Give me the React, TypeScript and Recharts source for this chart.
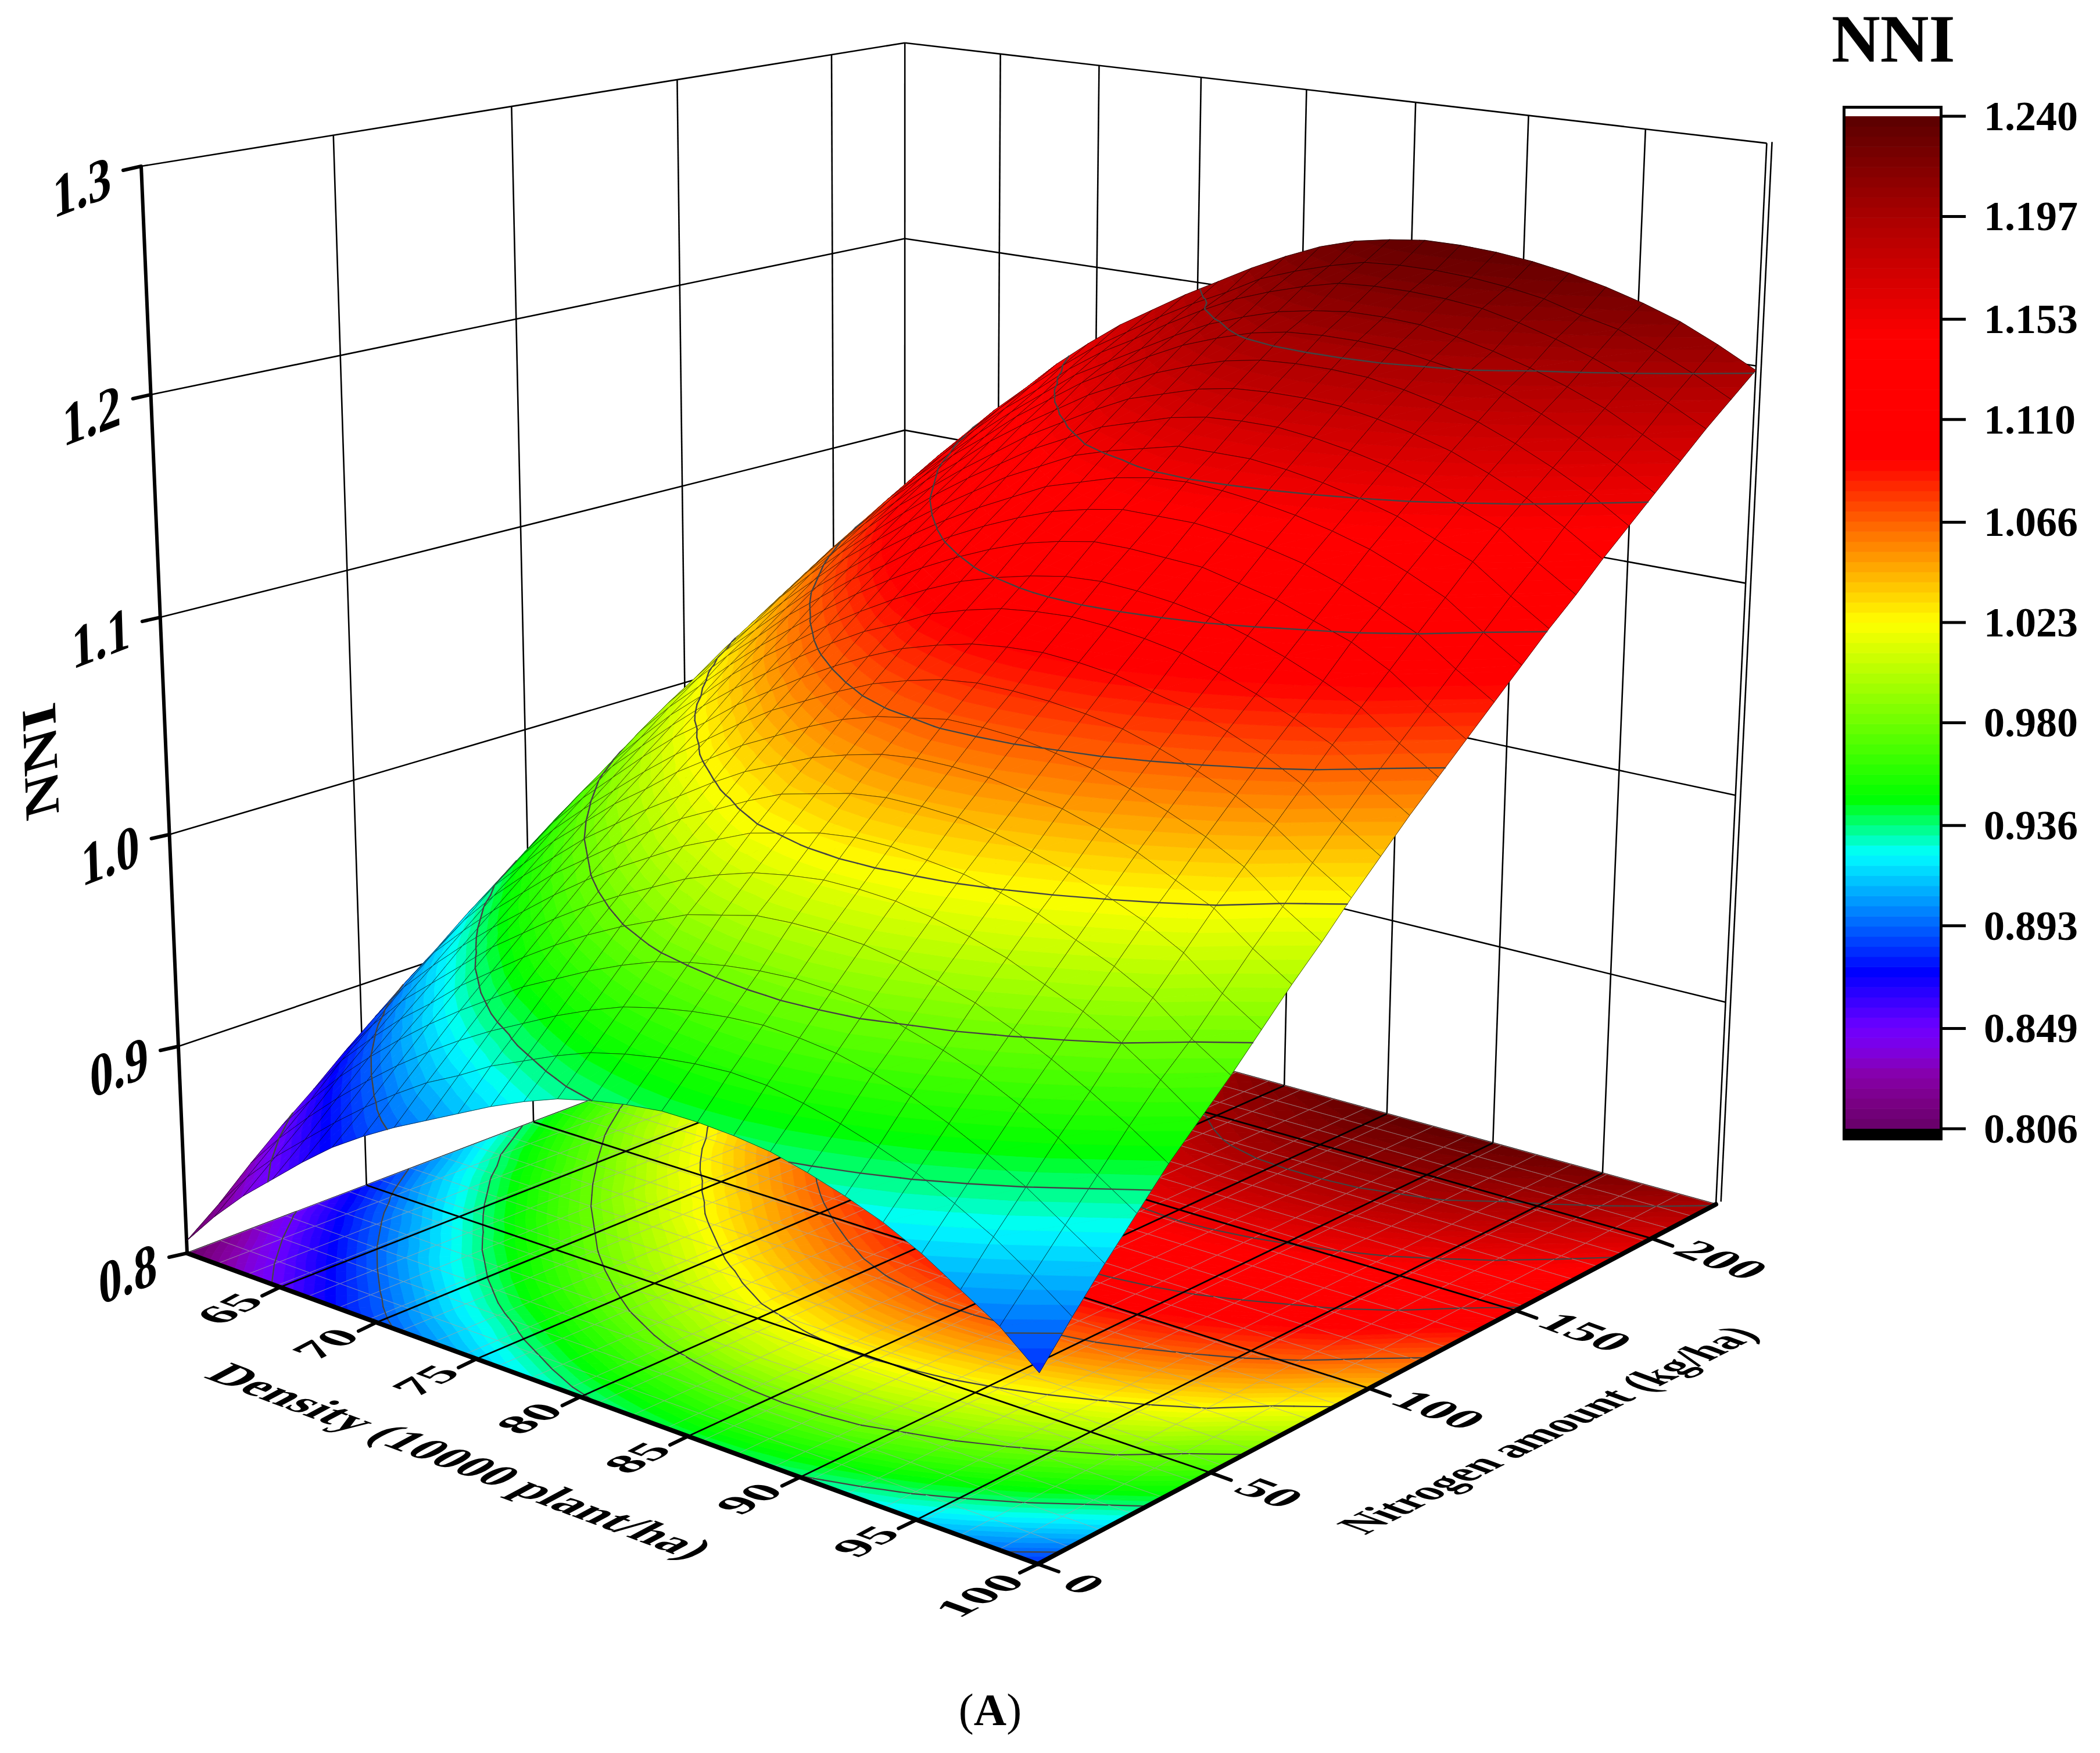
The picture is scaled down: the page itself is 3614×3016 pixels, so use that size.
import React from "react";
import { Scatter, ScatterChart, XAxis, YAxis } from "recharts";

const W = 3614;
const H = 3016;
const SERIF = "'Liberation Serif', 'Times New Roman', serif";

// grid nodes of the surface
const densityNodes = [60, 61.6, 63.2, 64.8, 66.4, 68, 69.6, 71.2, 72.8, 74.4, 76, 77.6, 79.2, 80.8, 82.4, 84, 85.6, 87.2, 88.8, 90.4, 92, 93.6, 95.2, 96.8, 98.4, 100];
const nitrogenNodes = [0, 9, 18, 27, 36, 45, 54, 63, 72, 81, 90, 99, 108, 117, 126, 135, 144, 153, 162, 171, 180, 189, 198, 207, 216, 225];

// NNI, one row per nitrogen node, one column per density node
const nni = [
  [.806, .823, .838, .851, .864, .876, .886, .895, .903, .911, .919, .926, .932, .936, .939, .941, .941, .940, .938, .934, .929, .923, .915, .905, .895, .881],
  [.818, .836, .851, .864, .877, .889, .900, .910, .918, .927, .934, .941, .947, .951, .954, .956, .957, .956, .953, .949, .944, .938, .930, .921, .910, .898],
  [.832, .849, .864, .878, .891, .903, .914, .924, .933, .941, .949, .956, .962, .966, .969, .971, .972, .971, .969, .965, .960, .953, .945, .936, .925, .914],
  [.845, .862, .878, .892, .905, .917, .928, .938, .948, .956, .964, .971, .977, .981, .984, .986, .987, .986, .984, .979, .974, .968, .960, .951, .940, .929],
  [.857, .876, .891, .905, .917, .930, .941, .952, .962, .971, .979, .986, .993, .997, 1.001, 1.002, 1.002, 1.001, .998, .994, .989, .982, .974, .965, .955, .944],
  [.870, .888, .904, .917, .930, .943, .954, .965, .975, .984, .992, 1.000, 1.006, 1.011, 1.014, 1.016, 1.016, 1.015, 1.012, 1.008, 1.003, .996, .989, .980, .969, .957],
  [.882, .901, .916, .930, .943, .955, .967, .978, .988, .997, 1.006, 1.013, 1.020, 1.024, 1.028, 1.030, 1.030, 1.028, 1.026, 1.022, 1.017, 1.010, 1.003, .994, .981, .970],
  [.894, .913, .928, .942, .955, .968, .979, .990, 1.000, 1.010, 1.018, 1.026, 1.033, 1.037, 1.041, 1.043, 1.043, 1.042, 1.039, 1.035, 1.030, 1.024, 1.017, 1.008, .995, .984],
  [.905, .924, .940, .954, .967, .980, .991, 1.002, 1.012, 1.022, 1.031, 1.038, 1.045, 1.050, 1.054, 1.056, 1.056, 1.055, 1.052, 1.049, 1.044, 1.038, 1.030, 1.022, 1.009, .998],
  [.917, .936, .951, .966, .979, .992, 1.003, 1.015, 1.025, 1.035, 1.043, 1.051, 1.058, 1.063, 1.066, 1.069, 1.069, 1.068, 1.065, 1.062, 1.057, 1.051, 1.044, 1.035, 1.022, 1.011],
  [.928, .947, .963, .977, .990, 1.003, 1.015, 1.026, 1.037, 1.047, 1.055, 1.063, 1.070, 1.075, 1.079, 1.081, 1.081, 1.080, 1.078, 1.075, 1.070, 1.064, 1.057, 1.048, 1.036, 1.025],
  [.939, .958, .974, .988, 1.002, 1.015, 1.026, 1.038, 1.048, 1.058, 1.067, 1.075, 1.082, 1.087, 1.091, 1.093, 1.094, 1.093, 1.091, 1.087, 1.083, 1.077, 1.070, 1.061, 1.049, 1.038],
  [.950, .969, .985, .999, 1.013, 1.026, 1.038, 1.049, 1.060, 1.070, 1.079, 1.086, 1.094, 1.099, 1.103, 1.105, 1.106, 1.105, 1.103, 1.100, 1.095, 1.089, 1.082, 1.074, 1.062, 1.051],
  [.960, .979, .995, 1.010, 1.023, 1.037, 1.049, 1.060, 1.071, 1.081, 1.090, 1.098, 1.105, 1.110, 1.114, 1.117, 1.118, 1.117, 1.115, 1.112, 1.107, 1.101, 1.094, 1.086, 1.074, 1.063],
  [.970, .990, 1.006, 1.020, 1.034, 1.047, 1.059, 1.071, 1.082, 1.092, 1.101, 1.109, 1.116, 1.122, 1.126, 1.129, 1.129, 1.128, 1.127, 1.123, 1.119, 1.113, 1.107, 1.098, 1.086, 1.075],
  [.980, 1.000, 1.016, 1.031, 1.044, 1.058, 1.070, 1.082, 1.092, 1.103, 1.112, 1.120, 1.127, 1.133, 1.137, 1.140, 1.140, 1.140, 1.138, 1.135, 1.131, 1.125, 1.118, 1.110, 1.098, 1.087],
  [.990, 1.009, 1.026, 1.040, 1.054, 1.068, 1.080, 1.092, 1.103, 1.113, 1.122, 1.130, 1.138, 1.143, 1.148, 1.151, 1.152, 1.151, 1.149, 1.146, 1.142, 1.137, 1.130, 1.122, 1.110, 1.099],
  [.999, 1.019, 1.035, 1.050, 1.064, 1.078, 1.090, 1.102, 1.113, 1.123, 1.133, 1.141, 1.149, 1.154, 1.158, 1.162, 1.162, 1.162, 1.160, 1.157, 1.153, 1.148, 1.141, 1.134, 1.122, 1.111],
  [1.009, 1.028, 1.045, 1.060, 1.074, 1.087, 1.100, 1.112, 1.123, 1.133, 1.143, 1.151, 1.159, 1.164, 1.169, 1.172, 1.173, 1.173, 1.171, 1.168, 1.164, 1.159, 1.152, 1.145, 1.133, 1.122],
  [1.018, 1.037, 1.054, 1.069, 1.083, 1.097, 1.109, 1.121, 1.132, 1.143, 1.152, 1.161, 1.169, 1.174, 1.179, 1.182, 1.183, 1.183, 1.182, 1.179, 1.175, 1.170, 1.163, 1.155, 1.145, 1.134],
  [1.026, 1.046, 1.063, 1.078, 1.092, 1.106, 1.118, 1.131, 1.142, 1.152, 1.162, 1.170, 1.178, 1.184, 1.189, 1.192, 1.193, 1.193, 1.192, 1.189, 1.185, 1.180, 1.173, 1.165, 1.156, 1.145],
  [1.035, 1.055, 1.071, 1.087, 1.101, 1.115, 1.127, 1.140, 1.151, 1.162, 1.171, 1.180, 1.188, 1.194, 1.199, 1.202, 1.203, 1.203, 1.202, 1.199, 1.196, 1.190, 1.183, 1.175, 1.166, 1.156],
  [1.043, 1.063, 1.080, 1.095, 1.109, 1.123, 1.136, 1.148, 1.160, 1.169, 1.178, 1.187, 1.195, 1.201, 1.206, 1.209, 1.211, 1.211, 1.210, 1.207, 1.203, 1.198, 1.192, 1.185, 1.176, 1.167],
  [1.051, 1.071, 1.088, 1.103, 1.118, 1.132, 1.144, 1.157, 1.168, 1.177, 1.187, 1.196, 1.204, 1.210, 1.215, 1.219, 1.220, 1.220, 1.219, 1.217, 1.213, 1.208, 1.202, 1.195, 1.187, 1.178],
  [1.059, 1.079, 1.096, 1.111, 1.126, 1.140, 1.153, 1.165, 1.175, 1.185, 1.194, 1.202, 1.211, 1.217, 1.222, 1.226, 1.227, 1.227, 1.226, 1.224, 1.221, 1.216, 1.212, 1.205, 1.197, 1.188],
  [1.066, 1.086, 1.103, 1.119, 1.133, 1.148, 1.161, 1.173, 1.183, 1.193, 1.202, 1.211, 1.219, 1.226, 1.231, 1.234, 1.236, 1.236, 1.235, 1.233, 1.230, 1.226, 1.221, 1.215, 1.207, 1.198],
];

const densityTicks = [65, 70, 75, 80, 85, 90, 95, 100];
const nitrogenTicks = [0, 50, 100, 150, 200];
const nniTicks = [0.8, 0.9, 1.0, 1.1, 1.2, 1.3];
const barTicks = [0.806, 0.849, 0.893, 0.936, 0.98, 1.023, 1.066, 1.11, 1.153, 1.197, 1.24];

// colour map stops: position on the colour bar, r, g, b
const colourStops = [
  [0, 102, 0, 102], [0.024, 120, 0, 130], [0.053, 135, 0, 170], [0.08, 125, 0, 230], [0.1, 110, 0, 255],
  [0.12, 70, 0, 255], [0.155, 0, 0, 255], [0.272, 0, 255, 255], [0.326, 0, 255, 0], [0.5, 255, 255, 0],
  [0.66, 255, 0, 0], [0.78, 255, 0, 0], [0.9, 170, 0, 0], [1, 90, 0, 0],
];

const Z_MIN = 0.806;
const Z_MAX = 1.24;
const BANDS = 100;
const STEP = (Z_MAX - Z_MIN) / BANDS;

function bandColour(k: number) {
  const t = (Math.max(0, Math.min(BANDS - 1, k)) + 0.5) / BANDS;
  let n = 0;
  while (n < colourStops.length - 2 && colourStops[n + 1][0] < t) n++;
  const a = colourStops[n];
  const b = colourStops[n + 1];
  const f = (t - a[0]) / (b[0] - a[0]);
  const c = [1, 2, 3].map((q) => Math.round(a[q] + (b[q] - a[q]) * f));
  return `rgb(${c[0]},${c[1]},${c[2]})`;
}

// perspective box, fitted on the four floor corners and the top of the z axis
const cA = [322, 2156];
const cB = [1786, 2691];
const cC = [2953, 2072];
const cD = [1557, 1688];
const vanish = [1553, 31286];
const topA = 286;

const solveWeights = () => {
  // lB*B + lD*D - lC*C = A with lA = 1
  const e1 = [cB[0] - cC[0], cD[0] - cC[0], cA[0] - cC[0]];
  const e2 = [cB[1] - cC[1], cD[1] - cC[1], cA[1] - cC[1]];
  const det = e1[0] * e2[1] - e1[1] * e2[0];
  const lB = (e1[2] * e2[1] - e1[1] * e2[2]) / det;
  const lD = (e1[0] * e2[2] - e1[2] * e2[0]) / det;
  return [lB, lD];
};
const [lB, lD] = solveWeights();
const P0 = [cA[0], cA[1], 1];
const Pu = [lB * cB[0] - cA[0], lB * cB[1] - cA[1], lB - 1];
const Pv = [lD * cD[0] - cA[0], lD * cD[1] - cA[1], lD - 1];
const sW = (topA - cA[1]) / (vanish[1] - topA);
const Pw = [sW * vanish[0], sW * vanish[1], sW];

function project(d: number, n: number, z: number) {
  const u = (d - 60) / 40;
  const v = n / 225;
  const w = (z - 0.8) / 0.5;
  const q = [0, 1, 2].map((k) => P0[k] + u * Pu[k] + v * Pv[k] + w * Pw[k]);
  return { x: q[0] / q[2], y: q[1] / q[2] };
}

type V = { x: number; y: number; z: number };

function clipAbove(poly: V[], lim: number, keepAbove: boolean) {
  const out: V[] = [];
  const inside = (p: V) => (keepAbove ? p.z >= lim : p.z <= lim);
  poly.forEach((p, i) => {
    const q = poly[(i + 1) % poly.length];
    if (inside(p)) out.push(p);
    if (inside(p) !== inside(q)) {
      const f = (lim - p.z) / (q.z - p.z);
      out.push({ x: p.x + (q.x - p.x) * f, y: p.y + (q.y - p.y) * f, z: lim });
    }
  });
  return out;
}

function buildCell(i: number, j: number, floor: boolean) {
  const corner = (a: number, b: number): V => {
    const z = nni[b][a];
    const p = project(densityNodes[a], nitrogenNodes[b], floor ? 0.8 : z);
    return { x: p.x, y: p.y, z };
  };
  const c = [corner(i, j), corner(i + 1, j), corner(i + 1, j + 1), corner(i, j + 1)];
  const pieces: { d: string; fill: string }[] = [];
  const contours: number[][] = [];
  [[c[0], c[1], c[2]], [c[0], c[2], c[3]]].forEach((tri) => {
    const zs = tri.map((p) => p.z);
    const k0 = Math.floor((Math.min(...zs) - Z_MIN) / STEP);
    const k1 = Math.floor((Math.max(...zs) - Z_MIN) / STEP);
    for (let k = k0; k <= k1; k++) {
      const lo = Z_MIN + k * STEP;
      const poly = clipAbove(clipAbove(tri, lo, true), lo + STEP, false);
      if (poly.length < 3) continue;
      pieces.push({ d: "M" + poly.map((p) => `${p.x.toFixed(1)} ${p.y.toFixed(1)}`).join("L") + "Z", fill: bandColour(k) });
    }
    barTicks.slice(1, -1).forEach((lv) => {
      const pts: number[] = [];
      tri.forEach((p, n) => {
        const q = tri[(n + 1) % 3];
        if ((p.z < lv) !== (q.z < lv)) {
          const f = (lv - p.z) / (q.z - p.z);
          pts.push(p.x + (q.x - p.x) * f, p.y + (q.y - p.y) * f);
        }
      });
      if (pts.length === 4) contours.push(pts);
    });
  });
  const mid = { x: (c[0].x + c[2].x) / 2, y: (c[0].y + c[2].y) / 2 };
  return { x: mid.x, y: mid.y, pieces, contours, outline: c };
}

const floorCells: any[] = [];
const surfaceCells: any[] = [];
for (let i = 0; i < densityNodes.length - 1; i++) {
  for (let j = nitrogenNodes.length - 2; j >= 0; j--) {
    floorCells.push(buildCell(i, j, true));
    surfaceCells.push(buildCell(i, j, false));
  }
}

const seg = (a: { x: number; y: number }, b: { x: number; y: number }) => ({ x: a.x, y: a.y, x2: b.x, y2: b.y });

const topZ = 1.3;
const wallLines = [
  ...nniTicks.flatMap((z) => [seg(project(60, 0, z), project(60, 225, z)), seg(project(60, 225, z), project(100, 225, z))]),
  ...nitrogenTicks.slice(1).map((n) => seg(project(60, n, 0.8), project(60, n, topZ))),
  ...densityTicks.map((d) => seg(project(d, 225, 0.8), project(d, 225, topZ))),
  seg(project(60, 225, 0.8), project(60, 225, topZ)),
  seg(project(100, 227, 0.8), project(100, 227, topZ)),
];
const floorLines = [
  ...nitrogenTicks.slice(1).map((n) => seg(project(60, n, 0.8), project(100, n, 0.8))),
  ...densityTicks.slice(0, -1).map((d) => seg(project(d, 0, 0.8), project(d, 225, 0.8))),
];
const axisLines = [
  seg(project(60, 0, 0.8), project(100, 0, 0.8)),
  seg(project(100, 0, 0.8), project(100, 225, 0.8)),
];
const zAxisLine = [seg(project(60, 0, 0.8), project(60, 0, topZ))];

const off = (p: { x: number; y: number }, dx: number, dy: number) => ({ x: p.x + dx, y: p.y + dy });
const tickLines = [
  ...densityTicks.map((d) => { const p = project(d, 0, 0.8); return seg(p, off(p, -31, 15)); }),
  ...nitrogenTicks.map((n) => { const p = project(100, n, 0.8); return seg(p, off(p, 36, 13)); }),
  ...nniTicks.map((z) => { const p = project(60, 0, z); return seg(p, off(p, -31, 7)); }),
];

const densityLabels = densityTicks.map((d) => {
  const p = project(d, 0, 0.8);
  const s = String(d);
  return { ...off(p, s.length > 2 ? -100 : -87, s.length > 2 ? 54 : 37), label: s };
});
const nitrogenLabels = nitrogenTicks.map((n) => {
  const p = project(100, n, 0.8);
  const s = String(n);
  const o = s.length === 1 ? [79, 34] : s.length === 2 ? [102, 35] : [120, 37];
  return { ...off(p, o[0], o[1]), label: s };
});
const zLabels = nniTicks.map((z) => {
  const p = project(60, 0, z);
  return { ...off(p, -102, 36), label: z.toFixed(1) };
});

const barY = (v: number) => 1942 - ((v - Z_MIN) / (Z_MAX - Z_MIN)) * 1742;
const barBands = Array.from({ length: BANDS }, (_, k) => ({ x: 3176, y: barY(Z_MIN + (k + 1) * STEP), h: (1742 / BANDS) + 0.6, fill: bandColour(k) }));
const barFrame = [{ x: 3173.5, y: 184.5 }];
const barFoot = [{ x: 3171, y: 1942 }];
const barTickLines = barTicks.map((v) => ({ x: 3343, y: barY(v), x2: 3383, y2: barY(v) }));
const barLabels = barTicks.map((v) => ({ x: 3414, y: barY(v), label: v.toFixed(3) }));

function lineShape(stroke: string, width: number, cap: "butt" | "round" = "butt") {
  return (p: any) => {
    const d = p.payload;
    const dx = p.cx - d.x;
    const dy = p.cy - d.y;
    return <line x1={p.cx} y1={p.cy} x2={d.x2 + dx} y2={d.y2 + dy} stroke={stroke} strokeWidth={width} strokeLinecap={cap} />;
  };
}

function cellShape(meshColour: string, meshWidth: number, contourWidth: number) {
  return (p: any) => {
    const d = p.payload;
    const o = d.outline;
    return (
      <g transform={`translate(${p.cx - d.x} ${p.cy - d.y})`}>
        {d.pieces.map((q: any, n: number) => (
          <path key={n} d={q.d} fill={q.fill} stroke={q.fill} strokeWidth={0.9} />
        ))}
        <path
          d={`M${o[0].x} ${o[0].y}L${o[1].x} ${o[1].y}L${o[2].x} ${o[2].y}L${o[3].x} ${o[3].y}Z`}
          fill="none"
          stroke={meshColour}
          strokeWidth={meshWidth}
        />
        {d.contours.map((c: number[], n: number) => (
          <line key={n} x1={c[0]} y1={c[1]} x2={c[2]} y2={c[3]} stroke="#444" strokeWidth={contourWidth} strokeLinecap="round" />
        ))}
      </g>
    );
  };
}

function labelShape(m: number[], fontSize: number, anchor = "middle") {
  return (p: any) => (
    <g transform={`matrix(${m.join(" ")} ${p.cx} ${p.cy})`}>
      <text textAnchor={anchor} dy="0.33em" fontFamily={SERIF} fontWeight="bold" fontSize={fontSize} fill="#000">
        {p.payload.label}
      </text>
    </g>
  );
}

// text planes: [x vector, glyph-down vector]
const floorAlongN = [0.883 * 1.25, -0.469 * 1.25, 0.939 * 1.05, 0.343 * 1.05];
const floorAlongD = [0.939 * 1.3, 0.343 * 1.3, -0.883 * 1.05, 0.469 * 1.05];
const wallPlane = [0.93 * 1.08, -0.36 * 1.08, 0.04, 1.3];

export default function App() {
  return (
    <div style={{ position: "absolute", left: 0, top: 0, width: W, height: H, background: "#fff" }}>
      <ScatterChart width={W} height={H} margin={{ top: 0, right: 0, bottom: 0, left: 0 }}>
        <XAxis type="number" dataKey="x" domain={[0, W]} hide />
        <YAxis type="number" dataKey="y" domain={[0, H]} reversed hide />

        <Scatter data={wallLines} isAnimationActive={false} shape={lineShape("#000", 2.6)} />
        <Scatter data={floorCells} isAnimationActive={false} shape={cellShape("rgba(165,165,165,0.7)", 1, 2.2)} />
        <Scatter data={floorLines} isAnimationActive={false} shape={lineShape("#000", 2.8)} />
        <Scatter data={zAxisLine} isAnimationActive={false} shape={lineShape("#000", 6)} />
        <Scatter data={axisLines} isAnimationActive={false} shape={lineShape("#000", 8, "round")} />
        <Scatter data={tickLines} isAnimationActive={false} shape={lineShape("#000", 6, "round")} />
        <Scatter data={surfaceCells} isAnimationActive={false} shape={cellShape("rgba(0,0,0,0.7)", 0.9, 2.4)} />

        <Scatter data={densityLabels} isAnimationActive={false} shape={labelShape(floorAlongN, 72)} />
        <Scatter data={nitrogenLabels} isAnimationActive={false} shape={labelShape(floorAlongD, 72)} />
        <Scatter data={zLabels} isAnimationActive={false} shape={labelShape(wallPlane, 80)} />

        <Scatter data={[{ x: 792, y: 2514, label: "Density (10000 plant/ha)" }]} isAnimationActive={false} shape={labelShape([0.936 * 1.19, 0.352 * 1.19, -0.883 * 1.15, 0.469 * 1.15], 72)} />
        <Scatter data={[{ x: 2664, y: 2460, label: "Nitrogen amount (kg/ha)" }]} isAnimationActive={false} shape={labelShape([0.893 * 1.0, -0.451 * 1.0, 0.939 * 1.15, 0.343 * 1.15], 72)} />
        <Scatter data={[{ x: 70, y: 1310, label: "NNI" }]} isAnimationActive={false} shape={labelShape([-0.035 * 1.2, -1.2, 0.96, -0.27], 88)} />

        <Scatter data={barBands} isAnimationActive={false} shape={(p: any) => <rect x={p.cx} y={p.cy} width={162} height={p.payload.h} fill={p.payload.fill} />} />
        <Scatter data={barFrame} isAnimationActive={false} shape={(p: any) => <rect x={p.cx} y={p.cy} width={167} height={1775} fill="none" stroke="#000" strokeWidth={5} />} />
        <Scatter data={barFoot} isAnimationActive={false} shape={(p: any) => <rect x={p.cx} y={p.cy} width={172} height={20} fill="#000" />} />
        <Scatter data={barTickLines} isAnimationActive={false} shape={lineShape("#000", 5)} />
        <Scatter data={barLabels} isAnimationActive={false} shape={labelShape([1, 0, 0, 1], 72, "start")} />
        <Scatter data={[{ x: 3152, y: 68, label: "NNI" }]} isAnimationActive={false} shape={labelShape([1, 0, 0, 1], 116, "start")} />
        <Scatter
          data={[{ x: 1704, y: 2968 }]}
          isAnimationActive={false}
          shape={(p: any) => (
            <text x={p.cx} y={p.cy} textAnchor="middle" fontFamily={SERIF} fontSize={78} fill="#000">
              (<tspan fontWeight="bold">A</tspan>)
            </text>
          )}
        />
      </ScatterChart>
    </div>
  );
}
